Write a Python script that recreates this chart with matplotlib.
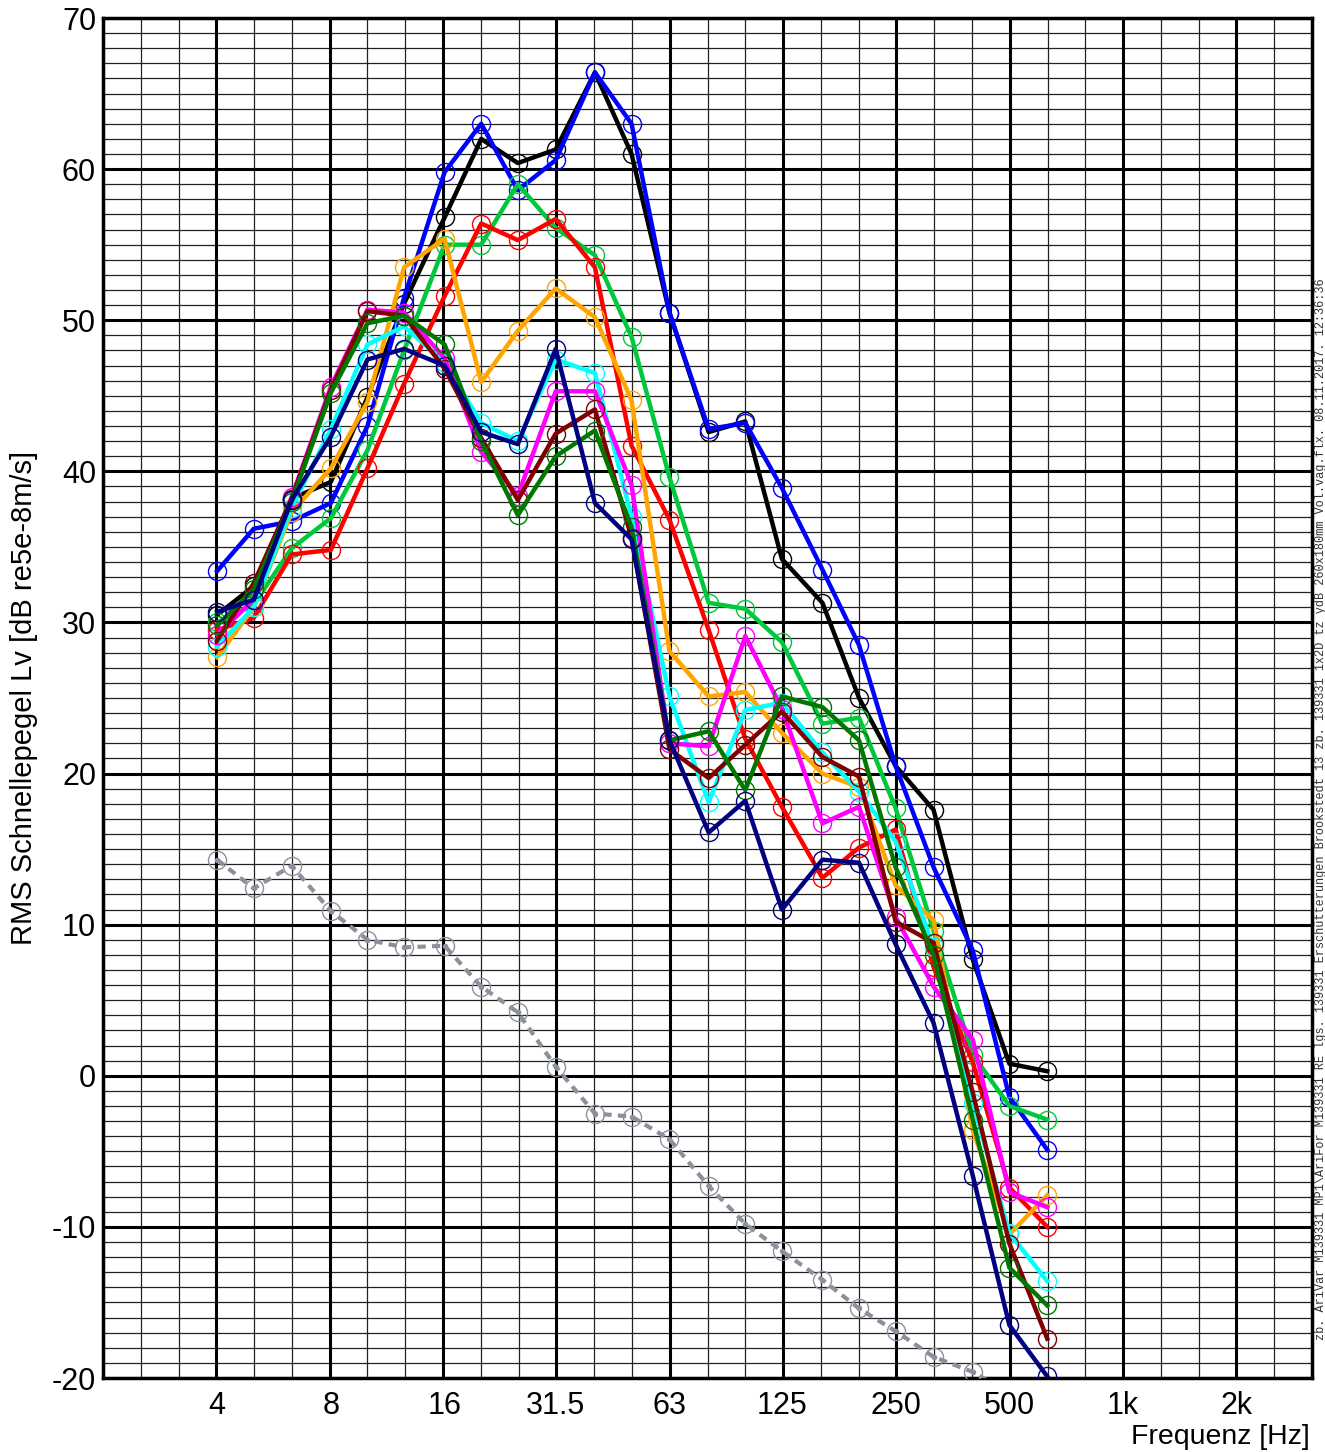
import numpy as np
import matplotlib
matplotlib.use('Agg')
import matplotlib.pyplot as plt
from matplotlib.ticker import FixedLocator, NullFormatter

plt.rcParams['font.family'] = ['Liberation Sans', 'DejaVu Sans']
plt.rcParams['axes.unicode_minus'] = False

# third-octave bands 4 Hz ... 630 Hz
freqs = [4, 5, 6.3, 8, 10, 12.5, 16, 20, 25, 31.5, 40, 50, 63, 80, 100,
         125, 160, 200, 250, 315, 400, 500, 630]

lv_gray = [14.3, 12.4, 13.9, 10.9, 9.0, 8.5, 8.6, 5.9, 4.2, 0.6, -2.5, -2.7, -4.2,
           -7.3, -9.8, -11.6, -13.5, -15.4, -16.9, -18.6, -19.6, -21.0, -22.5]
lv_black = [30.5, 32.4, 38.2, 39.3, 44.9, 51.1, 56.8, 62.0, 60.4, 61.3, 66.4, 61.0, 50.5,
            42.6, 43.3, 34.2, 31.3, 25.0, 20.5, 17.6, 7.7, 0.8, 0.3]
lv_blue = [33.4, 36.2, 36.7, 37.9, 43.0, 51.5, 59.8, 63.0, 58.6, 60.6, 66.4, 63.0, 50.5,
           42.8, 43.2, 38.9, 33.5, 28.5, 20.5, 13.8, 8.3, -1.4, -4.9]
lv_green = [30.0, 31.2, 34.9, 36.9, 41.4, 48.0, 55.0, 55.0, 59.0, 56.1, 54.3, 48.9, 39.6,
            31.3, 30.9, 28.7, 23.3, 23.7, 17.7, 9.6, 1.4, -2.0, -2.9]
lv_red = [29.5, 30.3, 34.5, 34.8, 40.2, 45.8, 51.6, 56.4, 55.3, 56.7, 53.5, 41.7, 36.8,
          29.5, 22.3, 17.8, 13.1, 15.1, 16.3, 7.2, 0.9, -7.4, -10.0]
lv_orange = [27.7, 31.0, 37.3, 40.2, 44.6, 53.5, 55.4, 45.9, 49.3, 52.1, 50.2, 44.7, 28.1,
             25.1, 25.4, 22.7, 20.0, 19.1, 12.6, 10.3, -3.6, -10.5, -7.9]
lv_cyan = [28.4, 31.0, 37.6, 42.8, 48.4, 49.6, 47.2, 43.2, 42.0, 47.4, 46.5, 37.0, 25.1,
           18.1, 24.2, 24.7, 21.4, 18.8, 15.5, 8.5, -1.8, -10.4, -13.6]
lv_magenta = [29.2, 31.5, 38.3, 45.6, 50.7, 50.5, 47.5, 41.3, 38.4, 45.3, 45.3, 39.1, 22.0,
              21.8, 29.1, 24.3, 16.7, 17.8, 10.5, 5.9, 2.4, -7.7, -8.7]
lv_darkred = [28.8, 32.6, 38.2, 45.4, 50.6, 50.3, 46.8, 42.2, 38.1, 42.5, 44.1, 35.6, 21.6,
              19.7, 21.9, 24.1, 21.1, 19.8, 10.2, 8.8, -1.1, -11.1, -17.4]
lv_darkgreen = [29.8, 32.2, 38.0, 45.2, 49.8, 50.3, 48.4, 42.0, 37.1, 41.0, 42.7, 36.3, 22.2,
                22.8, 18.9, 25.1, 24.4, 22.2, 13.8, 8.0, -2.9, -12.7, -15.2]
lv_navy = [30.7, 31.5, 38.1, 42.3, 47.4, 48.1, 47.0, 42.6, 41.8, 48.1, 37.9, 35.5, 22.2,
           16.1, 18.2, 11.0, 14.3, 14.1, 8.7, 3.5, -6.6, -16.5, -19.9]

series = [
    (lv_black, '#000000'),
    (lv_blue, '#0000ff'),
    (lv_green, '#00c83c'),
    (lv_red, '#ff0000'),
    (lv_orange, '#ffa500'),
    (lv_cyan, '#00ffff'),
    (lv_magenta, '#ff00ff'),
    (lv_darkred, '#800000'),
    (lv_darkgreen, '#007800'),
    (lv_navy, '#000080'),
]

tick_freqs = [4, 8, 16, 31.5, 63, 125, 250, 500, 1000, 2000]
tick_labels = ['4', '8', '16', '31.5', '63', '125', '250', '500', '1k', '2k']
footer = ('zb. AriVar M139331 MP1\\AriFor M139331 RE lgs. 139331 Erschütterungen '
          'Brookstedt 13 zb. 139331 1x2D tz ydB 260x180mm Vol.vag.flx. 08.11.2017. 12:36:36')

fig = plt.figure(figsize=(13.25, 14.52), dpi=100)
ax = fig.add_axes([103 / 1325, 1 - 1378 / 1452, (1312 - 103) / 1325, (1378 - 18) / 1452])

ax.set_xscale('log')
ax.set_xlim(10 ** 0.3, 10 ** 3.5)
ax.set_ylim(-20, 70)

# grid: octaves thick, third octaves thin, 10 dB thick, 1 dB thin
octaves = [10 ** (n / 10) for n in range(3, 36, 3)]
thirds = [10 ** (n / 10) for n in range(3, 36)]
ax.xaxis.set_major_locator(FixedLocator(tick_freqs))
ax.xaxis.set_minor_locator(FixedLocator(thirds))
ax.xaxis.set_minor_formatter(NullFormatter())
ax.set_xticklabels(tick_labels)
ax.set_yticks(np.arange(-20, 71, 10))
ax.set_yticks(np.arange(-20, 71, 1), minor=True)
for f in octaves:
    ax.axvline(f, color='black', lw=2.2, zorder=1)
ax.grid(which='minor', axis='x', color='#222222', lw=0.9, zorder=0)
ax.grid(which='major', axis='y', color='black', lw=2.2, zorder=1)
ax.grid(which='minor', axis='y', color='#222222', lw=0.9, zorder=0)
ax.set_axisbelow(True)
ax.tick_params(which='both', length=0, labelsize=22)
ax.tick_params(axis='x', pad=9)
ax.tick_params(axis='y', pad=5)
for s in ax.spines.values():
    s.set_linewidth(2.5)

ax.plot(freqs, lv_gray, color='#8c909c', lw=3, ls=(0, (2, 1.5)),
        marker='o', ms=13, mfc='none', mec='#8c909c', mew=1.0, zorder=3)
ax.plot(freqs, lv_gray, ls='none', marker='o', ms=3, color='#8c909c', zorder=3)

for vals, col in series:
    ax.plot(freqs, vals, color=col, lw=3.2, marker='o', ms=13, mfc='none',
            mec=col, mew=1.0, zorder=4)

ax.set_ylabel('RMS Schnellepegel Lv [dB re5e-8m/s]', fontsize=21, labelpad=10)
fig.text(1310 / 1325, 1 - 1437 / 1452, 'Frequenz [Hz]', fontsize=20.5,
         ha='right', va='center')
fig.text(1321 / 1325, 1 - 1340 / 1452, footer, rotation=90, fontsize=8.6,
         family='Liberation Mono', color='#333333', ha='center', va='bottom')

fig.savefig('out.png', dpi=100)
